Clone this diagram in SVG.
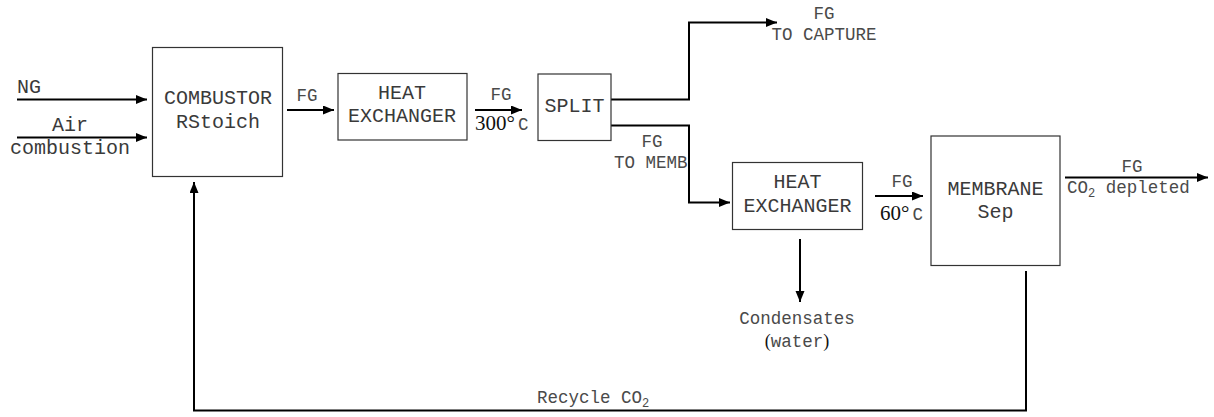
<svg xmlns="http://www.w3.org/2000/svg" width="1214" height="417" viewBox="0 0 1214 417">
<style>
.box{fill:#fff;stroke:#333;stroke-width:1.2}
.c{fill:none;stroke:#000;stroke-width:2}
.t{font-family:"Liberation Mono","Courier New",monospace;font-size:20px;fill:#3a3a3a}
.s{font-family:"Liberation Mono","Courier New",monospace;font-size:17.5px;fill:#4a4a4a}
.m{text-anchor:middle}
.serif{font-family:"Liberation Serif","Times New Roman",serif;font-size:21px;fill:#111}
.par{font-family:"Liberation Serif","Times New Roman",serif;font-size:18px;fill:#111}
</style>
<defs>
<marker id="ah" markerUnits="userSpaceOnUse" markerWidth="12" markerHeight="10" refX="11" refY="4.5" orient="auto">
<path d="M0,0 L11,4.5 L0,9 z" fill="#000"/>
</marker>
</defs>
<rect width="1214" height="417" fill="#fff"/>
<g id="connectors">
<path class="c" d="M17,99.5 H147" marker-end="url(#ah)"/>
<path class="c" d="M17,137.5 H147" marker-end="url(#ah)"/>
<path class="c" d="M287,110 H334" marker-end="url(#ah)"/>
<path class="c" d="M475,110 H522" marker-end="url(#ah)"/>
<path class="c" d="M611,99.5 H689 V22.5 H777" marker-end="url(#ah)"/>
<path class="c" d="M611,125.5 H689 V202.5 H730" marker-end="url(#ah)"/>
<path class="c" d="M800,239 V302" marker-end="url(#ah)"/>
<path class="c" d="M875,196 H923" marker-end="url(#ah)"/>
<path class="c" d="M1065,177.5 H1208" marker-end="url(#ah)"/>
<path class="c" d="M1026,271 V410.5 H194 V182" marker-end="url(#ah)"/>
</g>
<g id="labels">
<text class="t" x="17" y="93">NG</text>
<text class="t m" x="70" y="131">Air</text>
<text class="t" x="10" y="154">combustion</text>
<text class="s m" x="307" y="101">FG</text>
<text class="s m" x="501" y="100">FG</text>
<text x="475" y="130"><tspan class="serif">300°</tspan><tspan class="s" dx="3">C</tspan></text>
<text class="s m" x="824" y="19">FG</text>
<text class="s m" x="824" y="40">TO CAPTURE</text>
<text class="s m" x="652" y="146.5">FG</text>
<text class="s" x="614" y="168">TO MEMB</text>
<text class="s m" x="902" y="187">FG</text>
<text x="880" y="220"><tspan class="serif">60°</tspan><tspan class="s" dx="3">C</tspan></text>
<text class="s m" x="1132" y="172">FG</text>
<text class="s" x="1067" y="193">CO<tspan font-size="12" dy="4">2</tspan><tspan dy="-4"> depleted</tspan></text>
<text class="s m" x="797" y="324">Condensates</text>
<text x="797" y="347" text-anchor="middle"><tspan class="par">(</tspan><tspan class="s">water</tspan><tspan class="par">)</tspan></text>
<text class="s" x="537" y="403">Recycle CO<tspan font-size="12" dy="4">2</tspan></text>
</g>
<g id="combustor">
<rect class="box" x="152.5" y="47.5" width="130" height="129"/>
<text class="t m" x="218" y="104">COMBUSTOR</text>
<text class="t m" x="218" y="128">RStoich</text>
</g>
<g id="hx1">
<rect class="box" x="338" y="73.5" width="129" height="66.5"/>
<text class="t m" x="402" y="98.5">HEAT</text>
<text class="t m" x="402" y="122">EXCHANGER</text>
</g>
<g id="split">
<rect class="box" x="538" y="74" width="73" height="66.5"/>
<text class="t m" x="574.5" y="112">SPLIT</text>
</g>
<g id="hx2">
<rect class="box" x="732.5" y="162.5" width="130" height="67"/>
<text class="t m" x="797.5" y="188">HEAT</text>
<text class="t m" x="797.5" y="211.5">EXCHANGER</text>
</g>
<g id="membrane">
<rect class="box" x="931" y="136" width="129" height="129.5"/>
<text class="t m" x="995.5" y="195">MEMBRANE</text>
<text class="t m" x="995.5" y="218">Sep</text>
</g>
</svg>
